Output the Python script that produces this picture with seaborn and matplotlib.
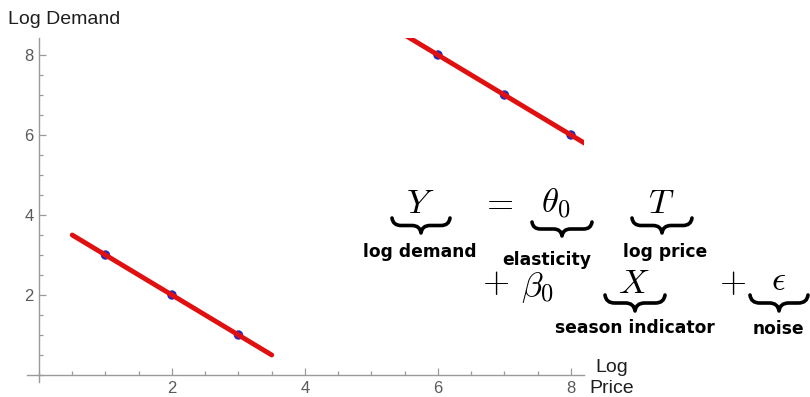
import numpy as np
import pandas as pd
import matplotlib
matplotlib.use("Agg")
import matplotlib.pyplot as plt
import seaborn as sns
from matplotlib.path import Path
from matplotlib.patches import PathPatch
from matplotlib.transforms import Affine2D
from matplotlib.ticker import FixedLocator, MultipleLocator

# Observations: log price, log demand and the season each one belongs to
log_price = [1, 2, 3, 6, 7, 8]
log_demand = [3, 2, 1, 8, 7, 6]
season = [0, 0, 0, 1, 1, 1]

# Price range over which the fitted line of each season is drawn
fit_span = {0: [0.5, 3.5], 1: [5.5, 8.5]}

x_ticks = [2, 4, 6, 8]
y_ticks = [2, 4, 6, 8]

sns.set_theme(style="white")
plt.rcParams["font.family"] = ["Liberation Sans", "DejaVu Sans"]
plt.rcParams["mathtext.fontset"] = "cm"

W, H, DPI = 810, 397, 100
fig = plt.figure(figsize=(W / DPI, H / DPI), dpi=DPI)
fig.patch.set_facecolor("white")

xlim = (-0.18, 8.2)
ylim = (-0.17, 8.42)
ax = fig.add_axes([27 / W, 1 - 381.8 / H, (584.3 - 27) / W, (381.8 - 38.2) / H])
ax.set_facecolor("white")

obs = pd.DataFrame({"T": log_price, "Y": log_demand, "X": season})

# Least squares fit of Y = theta0 * T + beta0 * X + c
A = np.column_stack([obs["T"], obs["X"], np.ones(len(obs))])
theta0, beta0, c0 = np.linalg.lstsq(A, obs["Y"].to_numpy(float), rcond=None)[0]

rows = []
for s, (lo, hi) in fit_span.items():
    t = np.linspace(lo, hi, 50)
    rows.append(pd.DataFrame({"T": t, "Y": theta0 * t + beta0 * s + c0, "X": s}))
fit = pd.concat(rows, ignore_index=True)

sns.scatterplot(data=obs, x="T", y="Y", ax=ax, color="#2a2ab8", s=46,
                edgecolor="none", zorder=2, legend=False)
sns.lineplot(data=fit, x="T", y="Y", units="X", estimator=None, ax=ax,
             color="#e01010", linewidth=3.5, zorder=3, legend=False)

ax.set_xlim(*xlim)
ax.set_ylim(*ylim)
ax.set_xlabel("")
ax.set_ylabel("")

# Axes crossing at the origin
for side in ("top", "right"):
    ax.spines[side].set_visible(False)
for side in ("left", "bottom"):
    ax.spines[side].set_position(("data", 0))
    ax.spines[side].set_color("#9a9a9a")
    ax.spines[side].set_linewidth(1.0)

ax.xaxis.set_major_locator(FixedLocator(x_ticks))
ax.yaxis.set_major_locator(FixedLocator(y_ticks))
ax.xaxis.set_minor_locator(MultipleLocator(0.5))
ax.yaxis.set_minor_locator(MultipleLocator(0.5))
ax.set_xticklabels([str(v) for v in x_ticks])
ax.set_yticklabels([str(v) for v in y_ticks])
ax.tick_params(which="both", direction="in", color="#9a9a9a", width=0.9,
               bottom=True, left=True)
ax.tick_params(which="major", length=5, labelsize=12, labelcolor="#5a5a5a")
ax.tick_params(axis="x", which="major", pad=4)
ax.tick_params(axis="y", which="major", pad=4)
ax.tick_params(which="minor", length=3)

# Pixel coordinates measured from the top-left corner of the figure
px = Affine2D().scale(1 / DPI, -1 / DPI).translate(0, H / DPI) + fig.dpi_scale_trans


def put(x, y, s, **kw):
    fig.text(x, y, s, transform=px, **kw)


put(8, 24, "Log Demand", fontsize=14, color="#1e1e1e", ha="left", va="baseline")
put(612, 372, "Log", fontsize=14, color="#1e1e1e", ha="center", va="baseline")
put(612, 393, "Price", fontsize=14, color="#1e1e1e", ha="center", va="baseline")


def underbrace(x0, x1, y0, h, lw=2.6):
    xm = (x0 + x1) / 2
    ym = y0 + h * 0.5
    r = h * 0.6
    verts = [
        (x0, y0), (x0 + 1, ym), (x0 + r, ym),
        (xm - r, ym),
        (xm - 1, ym), (xm, y0 + h),
        (xm + 1, ym), (xm + r, ym),
        (x1 - r, ym),
        (x1 - 1, ym), (x1, y0),
    ]
    codes = [Path.MOVETO, Path.CURVE3, Path.CURVE3,
             Path.LINETO,
             Path.CURVE3, Path.CURVE3,
             Path.CURVE3, Path.CURVE3,
             Path.LINETO,
             Path.CURVE3, Path.CURVE3]
    patch = PathPatch(Path(verts, codes), transform=px, fill=False,
                      edgecolor="black", linewidth=lw, capstyle="round",
                      joinstyle="round")
    fig.add_artist(patch)


math_kw = dict(fontsize=25, color="black", va="baseline")
put(420, 213, r"$Y$", ha="center", **math_kw)
put(497, 212, r"$=$", ha="center", **math_kw)
put(556, 213, r"$\theta_0$", ha="center", **math_kw)
put(661, 213, r"$T$", ha="center", **math_kw)
put(496, 292, r"$+$", ha="center", **math_kw)
put(537, 296, r"$\beta_0$", ha="center", **math_kw)
put(634, 293, r"$X$", ha="center", **math_kw)
put(733, 292, r"$+$", ha="center", **math_kw)
put(779, 290, r"$\epsilon$", ha="center", **math_kw)

underbrace(392, 450, 218, 15)
underbrace(532, 592, 222, 14)
underbrace(632, 692, 218, 15)
underbrace(605, 665, 295, 16)
underbrace(750, 808, 295, 16)

lab_kw = dict(fontsize=12.3, fontweight="bold", family="DejaVu Sans",
              color="black", ha="center", va="baseline")
put(420, 257, "log demand", **lab_kw)
put(547, 265, "elasticity", **lab_kw)
put(665, 257, "log price", **lab_kw)
put(635, 333, "season indicator", **lab_kw)
put(778, 334, "noise", **lab_kw)

fig.savefig("out.png", dpi=DPI, facecolor="white")
